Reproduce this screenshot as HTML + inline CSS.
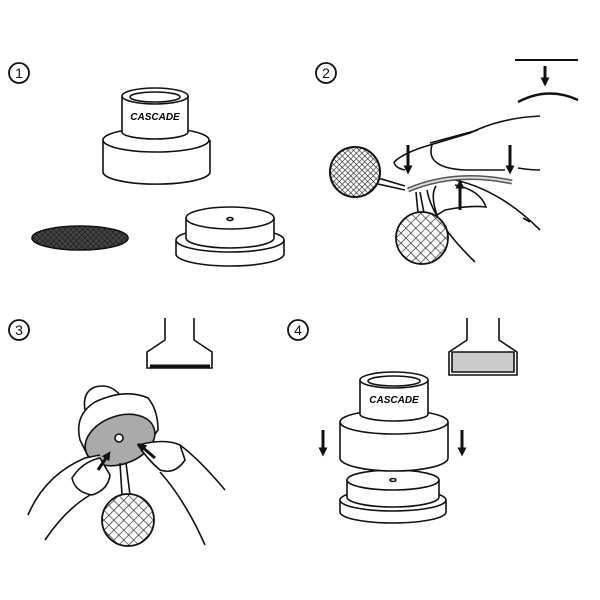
<!DOCTYPE html>
<html><head><meta charset="utf-8"><style>body{margin:0;background:#fff}svg{display:block}</style></head>
<body>
<svg width="600" height="600" viewBox="0 0 600 600" xmlns="http://www.w3.org/2000/svg" font-family="Liberation Sans, sans-serif">
<defs>
<pattern id="mesh" width="7" height="7" patternUnits="userSpaceOnUse" patternTransform="rotate(45)">
<rect width="7" height="7" fill="#fff"/><path d="M0 0H7M0 0V7" stroke="#222" stroke-width="1.3"/></pattern>
<pattern id="fmesh" width="4" height="4" patternUnits="userSpaceOnUse" patternTransform="rotate(45)">
<rect width="4" height="4" fill="#fff"/><path d="M0 0H4M0 0V4" stroke="#222" stroke-width="1.2"/></pattern>
<pattern id="dmesh" width="4" height="4" patternUnits="userSpaceOnUse" patternTransform="rotate(45)">
<rect width="4" height="4" fill="#444"/><path d="M0 0H4M0 0V4" stroke="#111" stroke-width="1"/></pattern>
<marker id="ah" viewBox="0 0 10 10" refX="5" refY="5" markerWidth="3" markerHeight="3" orient="auto"><path d="M0 0L10 5L0 10z" fill="#111"/></marker>
</defs>
<g fill="none" stroke="#111" stroke-width="1.8">
<circle cx="19" cy="73" r="10"/><circle cx="326" cy="73" r="10"/><circle cx="19" cy="330" r="10"/><circle cx="298" cy="330" r="10"/>
</g>
<g font-size="14" text-anchor="middle" fill="#111"><text x="19" y="78">1</text><text x="326" y="78">2</text><text x="19" y="335">3</text><text x="298" y="335">4</text></g>

<g fill="#fff" stroke="#111" stroke-width="1.6">
<path d="M103 140 V172 A53 12 0 0 0 210 172 V140"/>
<ellipse cx="156" cy="140" rx="53" ry="12"/>
<path d="M122 96 V132 A33 7 0 0 0 188 132 V96"/>
<ellipse cx="155" cy="96" rx="33" ry="8"/>
<ellipse cx="155" cy="97" rx="25" ry="5"/>
<ellipse cx="80" cy="238" rx="48" ry="12" fill="url(#dmesh)"/>
<path d="M176 240 V254 A54 12 0 0 0 284 254 V240"/>
<ellipse cx="230" cy="240" rx="54" ry="12"/>
<path d="M186 218 V238 A44 10 0 0 0 274 238 V218"/>
<ellipse cx="230" cy="218" rx="44" ry="11"/>
<ellipse cx="230" cy="219" rx="3" ry="1.5"/>
</g>
<text x="155" y="120" font-size="10" font-weight="bold" text-anchor="middle" font-style="italic">CASCADE</text>

<!-- panel 2 -->
<g fill="none" stroke="#111" stroke-width="1.6">
<path d="M515 60 H578" stroke-width="2"/>
<path d="M545 66 V82" stroke-width="3" marker-end="url(#ah)"/>
<path d="M518 102 Q548 86 578 100" stroke-width="2.5"/>
<!-- finger -->
<path d="M394 162 Q405 152 430 145 L470 133 Q500 118 540 116"/>
<path d="M430 143 L478 130"/>
<path d="M432 145 Q425 168 465 170 L505 170"/>
<path d="M518 168 Q530 170 540 170"/>
<path d="M394 162 Q395 168 405 170"/>
<!-- thumb -->
<path d="M427 190 Q432 220 475 262"/>
<path d="M455 180 Q500 190 540 230"/>
<path d="M436 186 Q430 195 437 215 L445 210 Q470 205 486 207 Q480 190 455 185"/>
<path d="M523 218 L530 222"/>
<!-- filter strip -->
<path d="M408 190 Q455 170 512 182" stroke="#555" stroke-width="5"/>
<path d="M408 190 Q455 170 512 182" stroke="#ddd" stroke-width="2"/>
<!-- connectors -->
<path d="M378 178 L405 186 M378 184 L405 190"/>
<path d="M416 192 L418 213 M420 192 L424 213"/>
<path d="M408 145 V170" stroke-width="3" marker-end="url(#ah)"/>
<path d="M510 145 V170" stroke-width="3" marker-end="url(#ah)"/>
<path d="M460 210 V184" stroke-width="3" marker-end="url(#ah)"/>
</g>
<circle cx="355" cy="172" r="25" fill="url(#fmesh)" stroke="#111" stroke-width="2"/>
<circle cx="422" cy="238" r="26" fill="url(#mesh)" stroke="#111" stroke-width="1.8"/>

<!-- panel 3 -->
<g fill="#fff" stroke="#111" stroke-width="1.6">
<path d="M165 318 V340 L147 352 V368 H212 V352 L194 340 V318"/>
<path d="M150 366 H210" stroke-width="3"/>
<path d="M85 410 Q82 392 95 387 Q110 383 120 395"/>
<path d="M80 440 Q74 415 95 402 Q125 388 148 398 Q158 410 158 430 L140 455 L90 460 Z"/>
<ellipse cx="120" cy="440" rx="36" ry="24" transform="rotate(-20 120 440)" fill="#aaa"/>
<circle cx="119" cy="438" r="4"/>
<path d="M28 515 Q45 475 85 458 L100 455"/>
<path d="M72 478 Q82 462 100 458 L110 475 Q108 490 92 495 Q75 492 72 478 Z"/>
<path d="M45 540 Q65 510 90 495"/>
<path d="M138 445 Q165 438 180 445 L185 460 Q175 475 160 470 Q148 460 138 445 Z"/>
<path d="M180 445 Q200 460 225 490"/>
<path d="M160 472 Q185 500 205 545"/>
<path d="M120 463 L122 495 M126 463 L130 495"/>
<path d="M98 470 L108 455" stroke-width="3" marker-end="url(#ah)"/>
<path d="M155 458 L141 446" stroke-width="3" marker-end="url(#ah)"/>
</g>
<circle cx="128" cy="520" r="26" fill="url(#mesh)" stroke="#111" stroke-width="1.8"/>

<!-- panel 4 -->
<g fill="#fff" stroke="#111" stroke-width="1.6">
<path d="M467 318 V340 L449 352 V375 H517 V352 L499 340 V318"/>
<path d="M452 352 H514 V372 H452 Z" fill="#ccc"/>
<path d="M340 500 V512 A53 11 0 0 0 446 512 V500"/>
<ellipse cx="393" cy="500" rx="53" ry="11"/>
<path d="M347 480 V497 A46 10 0 0 0 439 497 V480"/>
<ellipse cx="393" cy="480" rx="46" ry="10"/>
<ellipse cx="393" cy="480" rx="3" ry="1.5"/>
<path d="M340 422 V458 A54 13 0 0 0 448 458 V422"/>
<ellipse cx="394" cy="422" rx="54" ry="12"/>
<path d="M360 380 V414 A34 7 0 0 0 428 414 V380"/>
<ellipse cx="394" cy="380" rx="34" ry="8"/>
<ellipse cx="394" cy="381" rx="26" ry="5"/>
</g>
<text x="394" y="403" font-size="10" font-weight="bold" text-anchor="middle" font-style="italic">CASCADE</text>
<g stroke="#111" stroke-width="3"><path d="M323 430 V452" marker-end="url(#ah)"/><path d="M462 430 V452" marker-end="url(#ah)"/></g>
</svg>
</body></html>
